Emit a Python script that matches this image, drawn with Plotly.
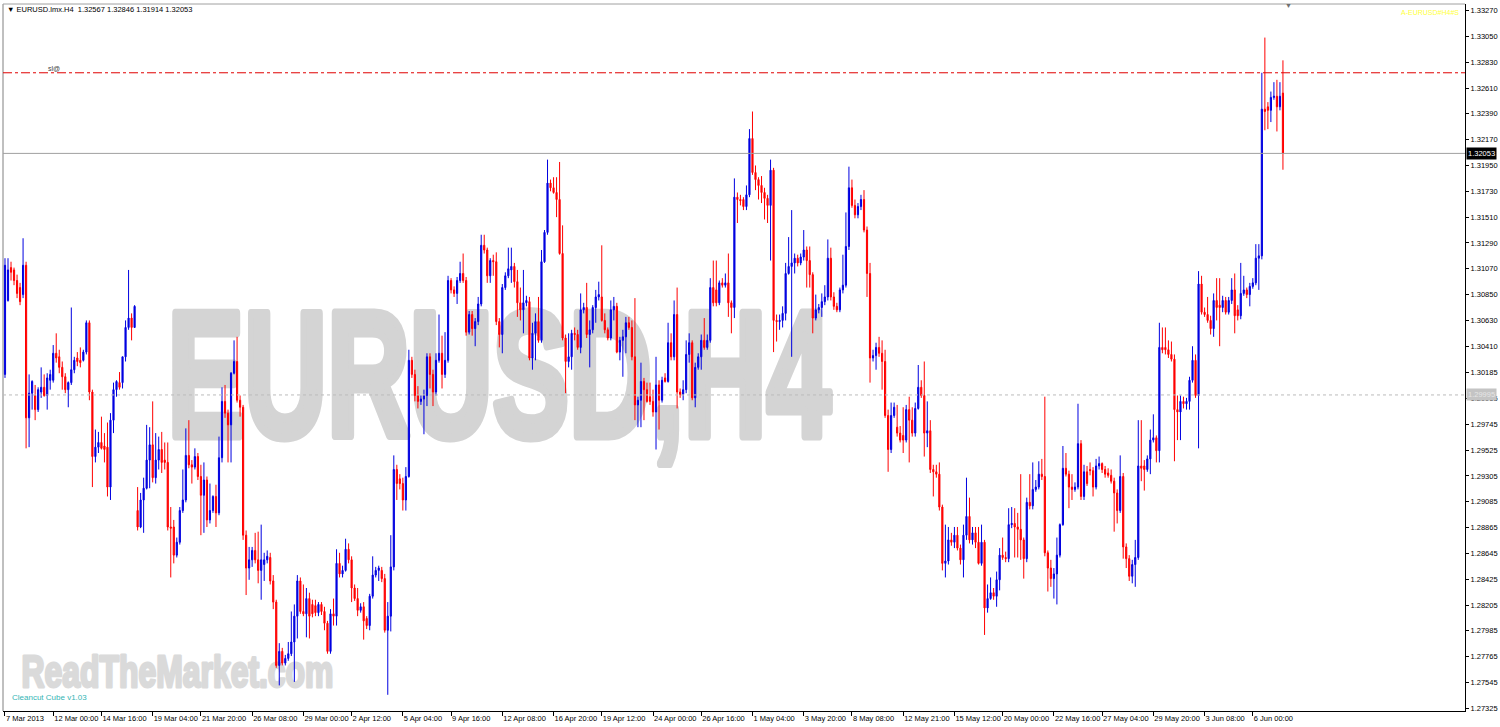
import plotly.graph_objects as go

# ---------------- data (prices in 1/10000 units) ----------------
OPEN = [
13017,13080,13108,13106,13097,13091,13085,13110,12980,13001,
12999,12987,13002,13006,12999,13012,13012,13035,13032,13023,
13015,13004,13010,13021,13031,13029,13029,13036,13061,13002,
12947,12955,12959,12956,12955,12921,12978,13004,13010,13010,
13032,13057,13065,13057,12901,12887,12910,12920,12944,12957,
12929,12944,12953,12944,12942,12887,12887,12863,12874,12901,
12910,12948,12940,12938,12947,12930,12914,12927,12893,12901,
12913,12899,12946,12994,12984,12974,13018,13028,12995,12989,
12880,12852,12859,12867,12859,12850,12855,12859,12861,12841,
12823,12769,12781,12771,12775,12779,12789,12811,12841,12815,
12813,12826,12821,12820,12814,12821,12815,12805,12781,12813,
12811,12856,12847,12850,12868,12859,12835,12826,12816,12819,
12809,12803,12828,12846,12850,12850,12843,12799,12811,12853,
12936,12928,12924,12910,12930,13029,13017,12999,12994,12996,
12999,13032,13017,13002,13029,13035,13017,13029,13097,13089,
13086,13097,13103,13097,13053,13068,13056,13062,13077,13127,
13123,13101,13114,13113,13062,13051,13091,13101,13106,13109,
13096,13078,13072,13078,13079,13031,13052,13062,13046,13113,
13138,13180,13176,13172,13166,13120,13048,13028,13032,13052,
13051,13040,13072,13074,13051,13055,13074,13083,13083,13063,
13055,13048,13072,13075,13036,13046,13049,13061,13057,13032,
12991,12995,13011,13004,12998,12994,12985,13008,12995,13014,
13011,13044,13032,13068,13002,13000,13004,13034,13044,12997,
13023,13032,13046,13040,13046,13091,13089,13078,13095,13093,
13095,13078,13074,13168,13166,13166,13160,13170,13218,13189,
13183,13178,13172,13167,13161,13191,13063,13062,13063,13069,
13103,13109,13112,13116,13112,13117,13123,13114,13102,13065,
13072,13074,13079,13083,13116,13083,13075,13072,13089,13093,
13126,13176,13161,13153,13160,13166,13140,13103,13031,13033,
13040,13035,13028,12982,12953,12982,12972,12967,12965,12961,
12987,12978,12967,12988,13006,12999,12967,12969,12936,12934,
12932,12904,12856,12858,12876,12874,12880,12869,12859,12880,
12896,12876,12882,12874,12856,12874,12818,12826,12831,12828,
12842,12863,12861,12860,12889,12890,12887,12885,12876,12860,
12908,12905,12919,12921,12932,12930,12865,12852,12843,12847,
12863,12889,12937,12932,12921,12919,12921,12958,12913,12934,
12936,12935,12921,12939,12941,12936,12933,12931,12926,12916,
12901,12930,12870,12860,12845,12855,12861,12939,12939,12936,
12945,12961,12963,12952,13040,13040,13038,13034,13030,12987,
12985,12994,12992,12994,13012,13029,12999,13094,13070,13068,
13063,13056,13080,13076,13074,13080,13070,13080,13089,13072,
13067,13086,13089,13085,13092,13095,13116,13118,13243,13245,
13242,13253,13254,13245,13256.7]

HIGH = [
13116,13116,13113,13108,13102,13095,13133,13113,13017,13012,
13008,13006,13023,13017,13018,13021,13042,13052,13038,13028,
13018,13011,13074,13032,13036,13040,13038,13063,13063,13004,
12970,12968,12981,12967,12976,12984,13010,13012,13019,13032,
13063,13106,13069,13076,12921,12916,12929,12974,12972,12994,
12967,12964,12968,12959,12959,12904,12893,12878,12904,12936,
12971,12978,12944,12954,12950,12940,12942,12930,12924,12914,
12923,12964,13006,13008,12987,13019,13046,13049,12999,12991,
12884,12870,12870,12882,12883,12889,12865,12867,12865,12846,
12825,12788,12784,12778,12789,12815,12821,12846,12844,12838,
12835,12831,12825,12825,12823,12823,12819,12807,12817,12826,
12868,12865,12854,12877,12873,12862,12838,12835,12822,12823,
12811,12830,12862,12853,12854,12853,12847,12823,12880,12948,
12940,12932,12929,12938,13038,13032,13021,13007,12999,13004,
13035,13035,13021,13035,13068,13050,13053,13101,13099,13092,
13100,13113,13120,13100,13071,13071,13065,13083,13136,13136,
13125,13116,13119,13121,13065,13094,13104,13125,13125,13112,
13106,13091,13106,13084,13083,13061,13069,13083,13123,13140,
13200,13183,13185,13185,13198,13144,13051,13052,13055,13057,
13055,13086,13078,13095,13063,13076,13089,13096,13127,13069,
13057,13080,13083,13078,13049,13055,13066,13066,13063,13082,
12998,13027,13014,13010,13010,13004,13032,13012,13015,13018,
13061,13052,13080,13091,13005,13012,13046,13052,13046,13027,
13035,13051,13065,13051,13099,13114,13114,13097,13099,13103,
13120,13080,13184,13172,13170,13168,13178,13226,13241,13195,
13185,13186,13176,13170,13200,13193,13068,13068,13075,13112,
13134,13157,13120,13119,13120,13140,13126,13126,13104,13085,
13077,13086,13093,13132,13125,13087,13078,13091,13119,13155,
13194,13183,13166,13163,13170,13174,13143,13112,13038,13044,
13049,13046,13038,12987,12993,12993,12991,12973,12989,12991,
12998,12989,12993,13025,13012,13028,12994,12978,12940,12940,
12942,12906,12889,12887,12882,12887,12887,12872,12889,12929,
12912,12887,12887,12887,12889,12876,12838,12844,12835,12849,
12869,12878,12866,12903,12904,12903,12899,12932,12878,12912,
12932,12942,12927,12943,12945,12998,12867,12859,12852,12878,
12890,12956,12950,12935,12932,12925,12992,12961,12940,12939,
12942,12938,12945,12947,12942,12939,12937,12936,12929,12919,
12948,12933,12873,12863,12859,12876,12978,12978,12944,12948,
12970,12983,12965,13061,13057,13057,13046,13045,13034,12999,
12999,12998,12997,13015,13041,13034,13105,13101,13074,13083,
13067,13086,13099,13099,13084,13083,13083,13099,13103,13076,
13112,13101,13091,13095,13099,13128,13128,13274,13304,13249,
13258,13266,13268,13266,13284.6]

LOW = [
13014,13079,13097,13093,13082,13076,13082,12954,12955,12987,
12978,12985,12997,12998,12987,13004,13010,13027,13018,13004,
13001,12989,13008,13018,13024,13023,13028,13034,12995,12921,
12942,12950,12953,12942,12913,12910,12967,12998,13004,13005,
13028,13055,13046,13057,12884,12886,12882,12919,12920,12925,
12924,12936,12933,12936,12884,12844,12856,12861,12872,12899,
12908,12937,12924,12936,12927,12880,12882,12887,12890,12899,
12887,12897,12942,12980,12942,12942,13017,12993,12981,12876,
12829,12842,12853,12856,12839,12825,12841,12856,12838,12817,
12767,12752,12769,12769,12773,12777,12755,12792,12813,12811,
12793,12792,12810,12811,12811,12812,12799,12779,12779,12803,
12803,12844,12844,12849,12856,12823,12824,12811,12814,12791,
12800,12799,12826,12844,12841,12840,12797,12744,12798,12850,
12910,12919,12901,12901,12929,13014,12994,12988,12991,12966,
12990,13005,12990,12999,13027,13005,13014,13027,13086,13083,
13077,13095,13095,13050,13051,13050,13041,13059,13075,13120,
13095,13095,13101,13059,13040,13035,13089,13099,13095,13091,
13066,13063,13052,13075,13029,13021,13029,13044,13044,13112,
13136,13173,13171,13151,13119,13046,13001,13023,13021,13046,
13038,13035,13069,13048,13023,13052,13061,13080,13062,13052,
13046,13046,13063,13035,13029,13015,13035,13055,13029,12978,
12972,12972,12978,12993,12991,12981,12953,12970,12993,13010,
13010,13029,13029,12988,12997,12995,13001,13027,12995,12989,
13021,13021,13038,13038,13044,13075,13075,13076,13091,13091,
13066,13052,13065,13146,13161,13157,13157,13168,13187,13174,
13166,13163,13149,13146,13114,13036,13045,13055,13057,13063,
13102,13032,13103,13109,13110,13114,13091,13091,13052,13063,
13069,13066,13076,13080,13080,13072,13070,13070,13086,13091,
13123,13159,13150,13150,13157,13138,13083,13010,13028,13021,
13032,13004,12980,12934,12950,12980,12964,12959,12950,12959,
12942,12964,12964,12987,12997,12947,12955,12933,12913,12929,
12901,12850,12844,12855,12871,12869,12867,12855,12844,12876,
12873,12872,12869,12855,12854,12795,12814,12825,12825,12819,
12833,12859,12857,12857,12886,12861,12861,12859,12843,12857,
12902,12902,12917,12919,12927,12862,12832,12836,12826,12821,
12861,12888,12930,12903,12910,12917,12919,12910,12910,12922,
12931,12913,12919,12936,12933,12929,12929,12924,12883,12890,
12899,12860,12852,12841,12839,12836,12859,12926,12918,12934,
12932,12959,12942,12942,13035,13034,13031,13028,12943,12961,
12961,12988,12987,12987,13010,12997,12954,13068,13066,13061,
13051,13049,13063,13041,13070,13068,13068,13077,13052,13063,
13064,13084,13082,13075,13090,13093,13089,13115,13225,13226,
13232,13251,13224,13242,13191.4]

CLOSE = [
13110,13106,13104,13097,13086,13079,13110,12980,13001,13011,
12987,13004,13006,12999,13014,13017,13035,13031,13023,13015,
13004,13010,13021,13029,13028,13027,13036,13061,13002,12947,
12955,12959,12954,12953,12921,12978,13004,13011,13006,13032,
13057,13065,13057,13075,12887,12910,12920,12944,12957,12929,
12944,12953,12942,12942,12887,12886,12863,12874,12901,12910,
12948,12940,12938,12947,12930,12914,12927,12893,12901,12913,
12899,12946,12994,12984,12974,13018,13028,12995,12989,12880,
12852,12859,12867,12859,12850,12859,12859,12862,12841,12823,
12769,12781,12771,12775,12779,12789,12811,12841,12815,12813,
12826,12811,12813,12814,12821,12815,12805,12781,12813,12811,
12856,12847,12850,12868,12859,12835,12826,12816,12819,12807,
12803,12828,12846,12850,12852,12843,12799,12811,12853,12936,
12924,12924,12910,12930,13029,13017,12999,12994,12996,12999,
13032,13017,13002,13029,13035,13017,13029,13097,13089,13086,
13097,13103,13097,13053,13068,13056,13062,13077,13127,13123,
13101,13114,13113,13062,13051,13091,13101,13107,13109,13096,
13078,13072,13078,13080,13031,13052,13062,13046,13113,13138,
13180,13176,13172,13166,13120,13048,13028,13032,13052,13051,
13040,13072,13074,13051,13055,13074,13083,13085,13063,13055,
13048,13072,13075,13036,13046,13049,13061,13057,13032,12991,
12995,13011,13004,12994,12994,12985,13008,12995,13012,13011,
13044,13032,13068,13002,13000,13004,13034,13044,12997,13023,
13032,13046,13040,13046,13091,13078,13078,13095,13093,13095,
13078,13074,13168,13166,13165,13160,13170,13218,13189,13183,
13178,13172,13167,13161,13191,13063,13062,13063,13069,13103,
13109,13112,13116,13112,13117,13123,13114,13102,13065,13072,
13074,13079,13083,13116,13083,13075,13072,13089,13093,13126,
13176,13161,13153,13160,13166,13140,13103,13031,13033,13040,
13035,13028,12982,12953,12982,12989,12967,12961,12961,12987,
12978,12967,12988,13006,12999,12967,12969,12936,12934,12932,
12904,12856,12858,12876,12874,12880,12869,12859,12880,12896,
12876,12882,12874,12856,12874,12818,12826,12831,12828,12842,
12863,12861,12860,12889,12890,12887,12885,12876,12860,12908,
12905,12919,12921,12932,12930,12865,12852,12843,12847,12863,
12889,12937,12932,12921,12919,12921,12958,12913,12934,12924,
12935,12921,12939,12941,12936,12932,12931,12926,12916,12901,
12930,12870,12860,12845,12855,12861,12939,12937,12936,12945,
12961,12963,12952,13040,13038,13038,13034,13030,12987,12985,
12994,12992,12994,13012,13029,12999,13094,13070,13068,13063,
13056,13080,13074,13074,13080,13070,13080,13089,13067,13067,
13086,13089,13085,13092,13095,13116,13118,13243,13241,13242,
13253,13254,13245,13254,13205.3]

TICK_BARS = [0, 16, 32, 49, 65, 82, 99, 115, 132, 148, 165, 182, 198,
             215, 231, 248, 265, 281, 298, 315, 331, 348, 364, 381, 398, 414]
TICK_LABELS = ["7 Mar 2013", "12 Mar 00:00", "14 Mar 16:00", "19 Mar 04:00",
               "21 Mar 20:00", "26 Mar 08:00", "29 Mar 00:00", "2 Apr 12:00",
               "5 Apr 04:00", "9 Apr 16:00", "12 Apr 08:00", "16 Apr 20:00",
               "19 Apr 12:00", "24 Apr 00:00", "26 Apr 16:00", "1 May 04:00",
               "3 May 20:00", "8 May 08:00", "12 May 21:00", "15 May 12:00",
               "20 May 00:00", "22 May 16:00", "27 May 04:00", "29 May 20:00",
               "3 Jun 08:00", "6 Jun 00:00"]
PRICE_TICKS = [1.33270, 1.33050, 1.32830, 1.32610, 1.32390, 1.32170, 1.31950,
               1.31730, 1.31510, 1.31290, 1.31070, 1.30850, 1.30630, 1.30410,
               1.30185, 1.29965, 1.29745, 1.29525, 1.29305, 1.29085, 1.28865,
               1.28645, 1.28425, 1.28205, 1.27985, 1.27765, 1.27545, 1.27325]
LAST_PRICE = 1.32053
SL_LEVEL = 1.3274
DOT_LEVEL = 1.29995
HEADER = "\u25bc EURUSD.lmx.H4  1.32567 1.32846 1.31914 1.32053"
WATERMARK = "EURUSD,H4"
SITE = "ReadTheMarket.com"

SCALE = 10000.0
o = [v / SCALE for v in OPEN]
h = [v / SCALE for v in HIGH]
l = [v / SCALE for v in LOW]
c = [v / SCALE for v in CLOSE]
x = list(range(len(CLOSE)))

BLUE = "#0000E0"
RED = "#FF0000"
SMALL = "Liberation Sans, Arial, sans-serif"
BOLD = "Liberation Sans, Arial, sans-serif"

fig = go.Figure(go.Candlestick(
    x=x, open=o, high=h, low=l, close=c,
    increasing=dict(line=dict(color=BLUE, width=1), fillcolor=BLUE),
    decreasing=dict(line=dict(color=RED, width=1), fillcolor=RED),
    whiskerwidth=0, hoverinfo="skip", showlegend=False))

W, H = 1500, 727
ML, MR, MT, MB = 3, 35, 4, 16
PW, PH = W - ML - MR, H - MT - MB


def px(xp):
    return (xp - ML) / PW


def py(yp):
    return 1 - (yp - MT) / PH


shapes = [
    dict(type="line", xref="paper", yref="paper", x0=0, x1=0, y0=0, y1=1,
         line=dict(color="#808080", width=1)),
    dict(type="line", xref="paper", yref="paper", x0=0, x1=1, y0=1, y1=1,
         line=dict(color="#A0A0A0", width=1)),
    dict(type="line", xref="paper", yref="y", x0=0, x1=1, y0=SL_LEVEL, y1=SL_LEVEL,
         line=dict(color="#E00000", width=1, dash="dashdot")),
    dict(type="line", xref="paper", yref="y", x0=0, x1=1, y0=LAST_PRICE, y1=LAST_PRICE,
         line=dict(color="#A0A0A0", width=1)),
    dict(type="line", xref="paper", yref="y", x0=0, x1=1, y0=DOT_LEVEL, y1=DOT_LEVEL,
         line=dict(color="#BBBBBB", width=1, dash="dot")),
    dict(type="rect", xref="paper", yref="paper", x0=px(163), x1=px(835),
         y0=py(436), y1=py(279), line=dict(width=0), fillcolor="rgba(0,0,0,0)",
         layer="below",
         label=dict(text=WATERMARK, textposition="middle center",
                    font=dict(family=BOLD, size=178, color="#D4D4D4", weight="bold"))),
    dict(type="rect", xref="paper", yref="paper", x0=px(20), x1=px(335),
         y0=py(694), y1=py(642), line=dict(width=0), fillcolor="rgba(0,0,0,0)",
         layer="below",
         label=dict(text=SITE, textposition="middle center",
                    font=dict(family=BOLD, size=44, color="#DADADA", weight="bold"))),
]

annotations = [
    dict(xref="paper", yref="paper", x=px(5), y=py(9), xanchor="left", yanchor="middle",
         text=HEADER, showarrow=False, font=dict(family=SMALL, size=7.5, color="#000000")),
    dict(xref="paper", yref="paper", x=px(46), y=py(69), xanchor="left", yanchor="middle",
         text="sl@", showarrow=False, font=dict(family=SMALL, size=7, color="#404040")),
    dict(xref="paper", yref="paper", x=px(10), y=py(697), xanchor="left", yanchor="middle",
         text="Cleancut Cube v1.03", showarrow=False,
         font=dict(family=SMALL, size=8, color="#33B5B5")),
    dict(xref="paper", yref="paper", x=px(1461), y=py(13), xanchor="right", yanchor="middle",
         text="A-EURUSD#H4#S", showarrow=False,
         font=dict(family=SMALL, size=7, color="#FFFF40")),
    dict(xref="paper", yref="paper", x=px(1288), y=py(5), xanchor="center", yanchor="middle",
         text="\u25bc", showarrow=False, font=dict(family=SMALL, size=7, color="#707070")),
    dict(xref="paper", yref="y", x=1, y=LAST_PRICE, xanchor="left", yanchor="middle",
         xshift=1, text="1.32053", showarrow=False, bgcolor="#000000", borderpad=1,
         font=dict(family=SMALL, size=7.5, color="#FFFFFF")),
    dict(xref="paper", yref="y", x=1, y=DOT_LEVEL, xanchor="left", yanchor="middle",
         xshift=1, text="1.29995", showarrow=False, bgcolor="#C4C4C4", borderpad=1,
         font=dict(family=SMALL, size=7.5, color="#E6E6E6")),
]

fig.update_layout(
    width=W, height=H,
    margin=dict(l=ML, r=MR, t=MT, b=MB, pad=0),
    paper_bgcolor="#FFFFFF", plot_bgcolor="#FFFFFF",
    showlegend=False, boxgap=0.45,
    shapes=shapes, annotations=annotations,
    xaxis=dict(range=[-0.66, 484.4], tickmode="array", tickvals=TICK_BARS,
               ticktext=TICK_LABELS, ticks="outside", ticklen=4, tickcolor="#000000",
               ticklabelposition="outside right", tickangle=0,
               tickfont=dict(family=SMALL, size=7.5, color="#000000"),
               showline=True, linecolor="#000000", linewidth=1,
               showgrid=False, zeroline=False, rangeslider=dict(visible=False),
               fixedrange=True),
    yaxis=dict(side="right", range=[1.27302, 1.33326], tickmode="array",
               tickvals=PRICE_TICKS, ticktext=[f"{v:.5f}" for v in PRICE_TICKS],
               ticks="outside", ticklen=3, tickcolor="#000000",
               tickfont=dict(family=SMALL, size=7.5, color="#000000"),
               showline=True, linecolor="#000000", linewidth=1,
               showgrid=False, zeroline=False, fixedrange=True),
)

# page without default body margin; make the two watermark texts heavy and
# condensed to the reference widths (they stay real SVG text)
POST = """
document.body.style.margin = '0';
document.body.style.overflow = 'hidden';
var targets = {
  'EURUSD,H4': {w: 672, sw: 9, col: '#D4D4D4'},
  'ReadTheMarket.com': {w: 315, sw: 3, col: '#DADADA'}
};
document.querySelectorAll('text').forEach(function (t) {
  var cfg = targets[t.textContent];
  if (!cfg) { return; }
  t.style.fontWeight = 'bold';
  t.style.stroke = cfg.col;
  t.style.strokeWidth = cfg.sw + 'px';
  t.style.strokeLinejoin = 'round';
  var bb = t.getBBox();
  if (!bb.width) { return; }
  var cx = bb.x + bb.width / 2;
  var sx = (cfg.w - cfg.sw) / bb.width;
  var prev = t.getAttribute('transform') || '';
  t.setAttribute('transform', prev + ' translate(' + cx + ',0) scale(' + sx + ',1) translate(' + (-cx) + ',0)');
});
"""

fig.write_html("out.html", post_script=POST, config={"displayModeBar": False})
